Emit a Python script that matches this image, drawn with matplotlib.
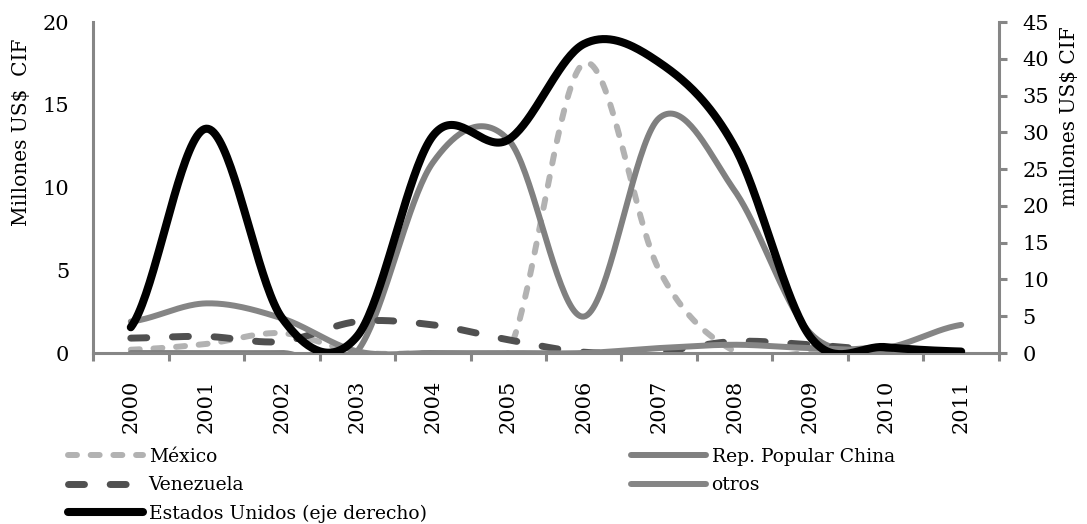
import numpy as np
import matplotlib
matplotlib.use("Agg")
import matplotlib.pyplot as plt
from matplotlib.lines import Line2D

# years (categories)
years = ["2000", "2001", "2002", "2003", "2004", "2005",
         "2006", "2007", "2008", "2009", "2010", "2011"]

# left axis, millones US$ CIF
mexico = [0.2, 0.55, 1.2, 0.05, 0.0, 0.05, 17.5, 5.0, 0.1, 0.0, 0.0, 0.0]
china = [0.0, 0.0, 0.0, 0.1, 11.5, 12.9, 2.2, 14.2, 9.8, 1.2, 0.3, 0.1]
venezuela = [0.9, 1.0, 0.7, 1.9, 1.7, 0.8, 0.05, 0.1, 0.7, 0.5, 0.15, 0.05]
otros = [1.9, 3.0, 2.1, 0.1, 0.0, 0.0, 0.0, 0.3, 0.5, 0.3, 0.3, 1.7]
# right axis
eeuu = [3.5, 30.5, 4.8, 2.3, 29.5, 29.0, 42.0, 39.5, 28.0, 2.2, 0.8, 0.2]

plt.rcParams['font.family'] = ['DejaVu Serif']

AXC = '#868686'


def smooth(vals, n=40):
    # Excel-like smoothed line (Catmull-Rom through the points)
    y = np.asarray(vals, dtype=float)
    p = np.r_[y[0], y, y[-1]]
    xs, ys = [], []
    for i in range(len(y) - 1):
        p0, p1, p2, p3 = p[i], p[i + 1], p[i + 2], p[i + 3]
        m1 = (p2 - p0) / 2
        m2 = (p3 - p1) / 2
        t = np.linspace(0, 1, n, endpoint=(i == len(y) - 2))
        h00 = 2 * t**3 - 3 * t**2 + 1
        h10 = t**3 - 2 * t**2 + t
        h01 = -2 * t**3 + 3 * t**2
        h11 = t**3 - t**2
        xs.append(i + t)
        ys.append(h00 * p1 + h10 * m1 + h01 * p2 + h11 * m2)
    return np.concatenate(xs), np.concatenate(ys)


fig = plt.figure(figsize=(10.87, 5.24), dpi=100)
ax = fig.add_axes([0.0856, 0.3263, 0.919 - 0.0856, 0.958 - 0.3263])
ax2 = ax.twinx()

st_mex = dict(color='#b2b2b2', lw=4.3, dashes=(1.5, 2.3), dash_capstyle='round')
st_ven = dict(color='#505050', lw=5.0, dashes=(2.3, 3.7), dash_capstyle='round')
st_chn = dict(color='#808080', lw=4.3, solid_capstyle='round')
st_otr = dict(color='#858585', lw=4.3, solid_capstyle='round')
st_us = dict(color='black', lw=5.8, solid_capstyle='round')

ax.plot(*smooth(mexico), **st_mex)
ax.plot(*smooth(china), **st_chn)
ax.plot(*smooth(venezuela), **st_ven)
ax.plot(*smooth(otros), **st_otr)
ax2.plot(*smooth(eeuu), **st_us)

ax.set_xlim(-0.5, len(years) - 0.5)
ax.set_ylim(0, 20)
ax2.set_ylim(0, 45)
ax.set_yticks(range(0, 21, 5))
ax2.set_yticks(range(0, 46, 5))

ax.set_xticks(range(len(years)))
ax.set_xticklabels(years, rotation=90)
ax.set_xticks(np.arange(-0.5, len(years), 1), minor=True)
ax.tick_params(axis='x', which='major', length=0, pad=19, labelsize=15)
ax.tick_params(axis='x', which='minor', length=6, width=2.2, color=AXC, direction='out')
ax.tick_params(axis='y', length=0, pad=17, labelsize=15)
ax2.tick_params(axis='y', length=6, width=2.2, color=AXC, direction='out', pad=11, labelsize=15)

for a in (ax, ax2):
    for s in a.spines.values():
        s.set_visible(False)
ax.spines['left'].set_visible(True)
ax.spines['bottom'].set_visible(True)
ax2.spines['right'].set_visible(True)
for s in (ax.spines['left'], ax.spines['bottom'], ax2.spines['right']):
    s.set_color(AXC)
    s.set_linewidth(2.2)

fig.text(22 / 1087, 1 - 132 / 524, "Millones US$  CIF", rotation=90,
         ha='center', va='center', fontsize=14.5)
fig.text(1069 / 1087, 1 - 116 / 524, "millones US$ CIF", rotation=90,
         ha='center', va='center', fontsize=14.5)

leg_kw = dict(frameon=False, fontsize=13.5, handlelength=4.0, handletextpad=0.3,
              labelspacing=0.55, borderaxespad=0, borderpad=0)
h_left = [Line2D([], [], **st_mex), Line2D([], [], **st_ven), Line2D([], [], **st_us)]
fig.legend(h_left, ["México", "Venezuela", "Estados Unidos (eje derecho)"],
           loc='upper left', bbox_to_anchor=(68 / 1087, 1 - 448 / 524), **leg_kw)
h_right = [Line2D([], [], **st_chn), Line2D([], [], **st_otr)]
fig.legend(h_right, ["Rep. Popular China", "otros"],
           loc='upper left', bbox_to_anchor=(631 / 1087, 1 - 448 / 524), **leg_kw)

fig.savefig("out.png", dpi=100)
